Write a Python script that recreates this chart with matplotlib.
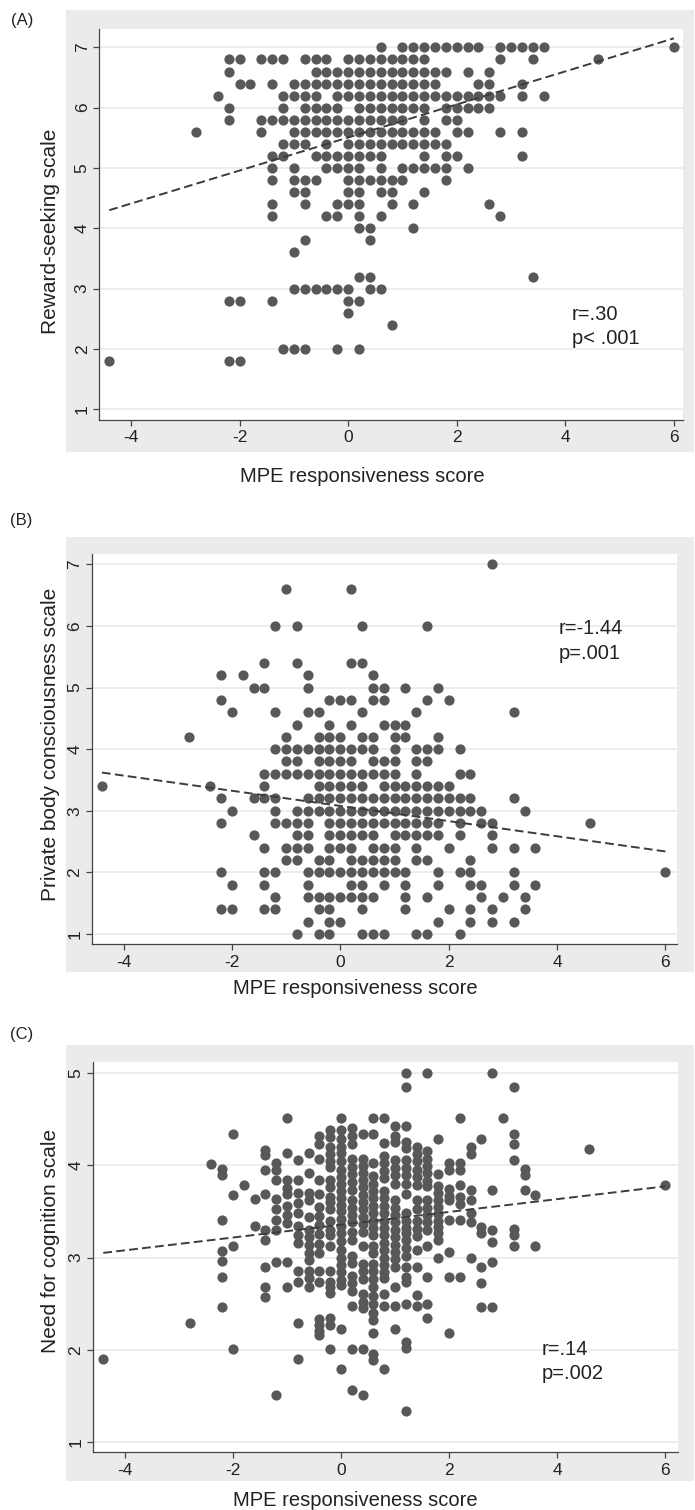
import matplotlib
matplotlib.use('Agg')
import matplotlib.pyplot as plt
from matplotlib.patches import Rectangle

plt.rcParams['font.family'] = ['Liberation Sans', 'DejaVu Sans']
plt.rcParams['axes.unicode_minus'] = False

# (A) reward-seeking scale value -> MPE responsiveness scores on that row
reward_rows = {
    7.0: [0.6, 1.0, 1.2, 1.4, 1.6, 1.8, 2.0, 2.2, 2.4, 2.8, 3.0, 3.2, 3.4, 3.6, 6.0],
    6.8: [-2.2, -2.0, -1.6, -1.4, -1.2, -0.8, -0.6, -0.4, 0.0, 0.2, 0.4, 0.6, 0.8, 1.0, 1.2, 1.4, 2.8, 3.4, 4.6],
    6.6: [-2.2, -0.6, -0.4, -0.2, 0.0, 0.2, 0.4, 0.6, 0.8, 1.0, 1.2, 1.4, 1.6, 1.8, 2.2, 2.6],
    6.4: [-2.0, -1.8, -1.4, -1.0, -0.8, -0.6, -0.4, -0.2, 0.0, 0.2, 0.4, 0.6, 0.8, 1.0, 1.2, 1.4, 1.6, 2.4, 2.6, 3.2],
    6.2: [-2.4, -1.2, -1.0, -0.8, -0.6, -0.2, 0.0, 0.2, 0.4, 0.6, 0.8, 1.0, 1.2, 1.4, 1.6, 1.8, 2.0, 2.2, 2.4, 2.6, 2.8, 3.2, 3.6],
    6.0: [-2.2, -1.2, -0.8, -0.6, -0.4, -0.2, 0.2, 0.4, 0.6, 0.8, 1.0, 1.2, 1.4, 1.8, 2.0, 2.2, 2.4, 2.6],
    5.8: [-2.2, -1.6, -1.4, -1.2, -1.0, -0.8, -0.6, -0.4, -0.2, 0.0, 0.2, 0.4, 0.6, 0.8, 1.0, 1.4, 1.8, 2.0],
    5.6: [-2.8, -1.6, -1.0, -0.8, -0.6, -0.4, -0.2, 0.0, 0.2, 0.4, 0.6, 0.8, 1.0, 1.2, 1.4, 1.6, 2.0, 2.2, 2.8, 3.2],
    5.4: [-1.2, -1.0, -0.8, -0.4, 0.0, 0.2, 0.4, 0.6, 0.8, 1.0, 1.2, 1.4, 1.6, 1.8],
    5.2: [-1.4, -1.2, -0.6, -0.4, -0.2, 0.0, 0.2, 0.4, 0.6, 1.4, 1.8, 2.0, 3.2],
    5.0: [-1.4, -1.0, -0.4, -0.2, 0.0, 0.2, 0.6, 1.0, 1.2, 1.4, 1.6, 1.8, 2.2],
    4.8: [-1.4, -1.0, -0.8, -0.6, 0.0, 0.2, 0.4, 0.6, 0.8, 1.0, 1.8],
    4.6: [-1.0, -0.8, 0.0, 0.2, 0.6, 0.8, 1.4],
    4.4: [-1.4, -0.8, -0.2, 0.0, 0.2, 0.8, 1.2, 2.6],
    4.2: [-1.4, -0.4, -0.2, 0.2, 0.6, 2.8],
    4.0: [0.2, 0.4, 1.2],
    3.8: [-0.8, 0.4],
    3.6: [-1.0],
    3.2: [0.2, 0.4, 3.4],
    3.0: [-1.0, -0.8, -0.6, -0.4, -0.2, 0.0, 0.4, 0.6],
    2.8: [-2.2, -2.0, -1.4, 0.0, 0.2],
    2.6: [0.0],
    2.4: [0.8],
    2.0: [-1.2, -1.0, -0.8, -0.2, 0.2],
    1.8: [-4.4, -2.2, -2.0],
}

# (B) private body consciousness scale value -> MPE scores on that row
pbc_rows = {
    7.0: [2.8],
    6.6: [-1.0, 0.2],
    6.0: [-1.2, -0.8, 0.4, 1.6],
    5.4: [-1.4, -0.8, 0.2, 0.4],
    5.2: [-2.2, -1.8, -0.6, 0.6],
    5.0: [-1.6, -1.4, -0.6, 0.6, 0.8, 1.2, 1.8],
    4.8: [-2.2, -0.2, 0.0, 0.2, 0.6, 0.8, 1.6, 2.0],
    4.6: [-2.0, -1.2, -0.6, -0.4, 0.4, 1.4, 3.2],
    4.4: [-0.8, -0.2, 0.2, 0.8, 1.0, 1.2],
    4.2: [-2.8, -1.0, -0.4, -0.2, 0.0, 0.4, 0.6, 1.0, 1.2, 1.8],
    4.0: [-1.2, -1.0, -0.8, -0.6, -0.4, -0.2, 0.0, 0.2, 0.4, 0.6, 1.0, 1.4, 1.6, 1.8, 2.2],
    3.8: [-1.0, -0.8, -0.4, -0.2, 0.0, 0.2, 0.6, 0.8, 1.0, 1.4, 1.6],
    3.6: [-1.4, -1.2, -1.0, -0.8, -0.6, -0.4, -0.2, 0.0, 0.2, 0.4, 0.6, 0.8, 1.0, 1.4, 2.2, 2.4],
    3.4: [-4.4, -2.4, -1.4, -0.4, -0.2, 0.0, 0.2, 0.4, 0.8, 1.0, 1.2, 1.4, 1.6, 1.8, 2.0],
    3.2: [-2.2, -1.6, -1.4, -1.2, -0.6, -0.4, -0.2, 0.0, 0.2, 0.4, 0.6, 0.8, 1.0, 1.2, 1.4, 1.6, 1.8, 2.0, 2.2, 2.4, 3.2],
    3.0: [-2.0, -1.2, -0.8, -0.6, -0.4, -0.2, 0.0, 0.2, 0.4, 0.6, 0.8, 1.0, 1.2, 1.4, 1.6, 1.8, 2.0, 2.2, 2.4, 2.6, 3.4],
    2.8: [-2.2, -1.2, -1.0, -0.8, -0.6, -0.2, 0.0, 0.2, 0.4, 0.6, 0.8, 1.0, 1.2, 1.4, 1.6, 1.8, 2.2, 2.6, 2.8, 4.6],
    2.6: [-1.6, -0.8, -0.6, -0.2, 0.0, 0.2, 0.4, 0.6, 1.0, 1.2, 1.4, 1.6, 1.8, 2.2, 2.8],
    2.4: [-1.4, -1.0, -0.8, -0.6, -0.2, 0.0, 0.2, 0.6, 0.8, 1.0, 1.4, 2.0, 2.8, 3.2, 3.6],
    2.2: [-1.0, -0.8, -0.4, -0.2, 0.2, 0.4, 0.6, 0.8, 1.0, 1.4, 1.6, 2.4],
    2.0: [-2.2, -1.4, -1.2, -0.6, -0.4, -0.2, 0.0, 0.2, 0.4, 0.6, 0.8, 1.0, 1.2, 1.8, 2.2, 2.4, 3.2, 6.0],
    1.8: [-2.0, -1.4, -0.6, 0.2, 0.4, 0.8, 1.2, 1.8, 2.4, 2.6, 3.2, 3.6],
    1.6: [-1.2, -0.6, -0.4, -0.2, 0.0, 0.2, 0.4, 0.6, 1.2, 1.6, 2.6, 3.0, 3.4],
    1.4: [-2.2, -2.0, -1.4, -1.2, -0.4, -0.2, 0.4, 1.2, 2.0, 2.4, 2.8, 3.4],
    1.2: [-0.6, -0.2, 0.0, 1.8, 2.4, 2.8, 3.2],
    1.0: [-0.8, -0.4, -0.2, 0.4, 0.6, 0.8, 1.4, 1.6, 2.2],
}

# (C) MPE responsiveness score -> need for cognition values in that column
nfc_cols = {
    -4.4: [1.90],
    -2.8: [2.29],
    -2.4: [4.01],
    -2.2: [3.96, 3.89, 3.41, 3.07, 2.96, 2.79, 2.46],
    -2.0: [4.34, 3.68, 3.12, 2.01],
    -1.8: [3.79],
    -1.6: [3.63, 3.34],
    -1.4: [4.16, 4.11, 3.95, 3.69, 3.30, 3.19, 2.90, 2.68, 2.57],
    -1.2: [4.02, 3.95, 3.84, 3.63, 3.52, 3.41, 3.30, 2.95, 1.51],
    -1.0: [4.51, 4.13, 3.84, 3.75, 3.69, 3.56, 3.46, 3.37, 2.95, 2.68],
    -0.8: [4.06, 3.84, 3.70, 3.59, 3.48, 3.34, 3.24, 3.16, 2.85, 2.73, 2.29, 1.90],
    -0.6: [4.13, 3.91, 3.70, 3.62, 3.44, 3.30, 3.22, 3.13, 3.05, 2.97, 2.85, 2.78, 2.68],
    -0.4: [4.31, 4.23, 4.07, 3.84, 3.69, 3.55, 3.45, 3.35, 3.25, 3.15, 3.05, 2.85, 2.74, 2.33, 2.27, 2.20, 2.16],
    -0.2: [4.38, 4.30, 4.20, 4.12, 4.04, 3.98, 3.84, 3.76, 3.66, 3.60, 3.52, 3.40, 3.30, 3.24, 3.12,
           2.85, 2.74, 2.68, 2.62, 2.34, 2.27, 2.01],
    0.0: [4.51, 4.38, 4.28, 4.20, 4.13, 4.04, 3.95, 3.87, 3.80, 3.72, 3.64, 3.57, 3.50, 3.42, 3.34,
          3.26, 3.18, 3.08, 3.00, 2.92, 2.84, 2.76, 2.70, 2.23, 1.79],
    0.2: [4.40, 4.31, 4.23, 4.07, 3.98, 3.90, 3.82, 3.73, 3.62, 3.54, 3.46, 3.38, 3.28, 3.19, 3.02,
          2.94, 2.80, 2.72, 2.64, 2.47, 2.01, 1.57],
    0.4: [4.34, 4.07, 3.99, 3.91, 3.84, 3.76, 3.68, 3.60, 3.52, 3.44, 3.36, 3.28, 3.12, 2.93, 2.85,
          2.77, 2.60, 2.52, 2.45, 2.01, 1.51],
    0.6: [4.51, 4.34, 4.02, 3.88, 3.80, 3.72, 3.64, 3.56, 3.48, 3.40, 3.32, 3.24, 3.12, 3.05, 2.93,
          2.85, 2.77, 2.68, 2.58, 2.50, 2.40, 2.32, 2.18, 1.96, 1.89],
    0.8: [4.51, 4.24, 4.10, 4.02, 3.94, 3.86, 3.72, 3.64, 3.56, 3.48, 3.40, 3.32, 3.24, 3.16, 3.08,
          3.00, 2.92, 2.84, 2.78, 2.61, 2.47, 1.79],
    1.0: [4.42, 4.32, 4.25, 4.05, 3.97, 3.89, 3.80, 3.62, 3.54, 3.46, 3.38, 3.30, 3.22, 3.14, 3.06,
          2.98, 2.90, 2.68, 2.47, 2.23],
    1.2: [5.00, 4.84, 4.42, 4.25, 4.18, 4.05, 3.97, 3.89, 3.80, 3.69, 3.48, 3.40, 3.32, 3.26, 3.19,
          3.10, 3.02, 2.90, 2.79, 2.74, 2.50, 2.09, 2.02, 1.34],
    1.4: [4.20, 4.12, 4.04, 3.95, 3.87, 3.79, 3.62, 3.53, 3.39, 3.31, 3.23, 3.08, 2.90, 2.59, 2.47],
    1.6: [5.00, 4.15, 4.07, 3.99, 3.91, 3.83, 3.77, 3.62, 3.54, 3.46, 3.38, 3.30, 3.12, 2.79, 2.50, 2.34],
    1.8: [4.28, 3.90, 3.77, 3.70, 3.62, 3.55, 3.47, 3.40, 3.33, 3.26, 3.19, 3.00],
    2.0: [4.02, 3.95, 3.74, 3.67, 3.62, 3.41, 3.06, 2.79, 2.18],
    2.2: [4.51, 4.02, 3.95, 3.78, 3.65, 3.58, 3.41, 2.79],
    2.4: [4.20, 4.12, 3.73, 3.62, 3.48, 3.38, 3.00],
    2.6: [4.28, 3.33, 3.26, 2.90, 2.72, 2.46],
    2.8: [5.00, 3.73, 3.30, 3.17, 2.95, 2.46],
    3.0: [4.51],
    3.2: [4.84, 4.34, 4.23, 4.05, 3.31, 3.24, 3.12],
    3.4: [3.96, 3.89, 3.73],
    3.6: [3.68, 3.12],
    4.6: [4.17],
    6.0: [3.78],
}

# fitted lines, read at the ends of the data range
fit_x = [-4.4, 6.0]
reward_fit = [4.30, 7.15]
pbc_fit = [3.62, 2.34]
nfc_fit = [3.05, 3.77]

x_ticks = [-4, -2, 0, 2, 4, 6]
seven_ticks = [1, 2, 3, 4, 5, 6, 7]
five_ticks = [1, 2, 3, 4, 5]

W, H = 695, 1510
DOT = '#585858'
AXIS = '#444444'


def frac(l, t, r, b):
    return [l / W, 1 - b / H, (r - l) / W, (b - t) / H]


def rows_to_xy(rows):
    xs, ys = [], []
    for y, row in rows.items():
        xs += row
        ys += [y] * len(row)
    return xs, ys


def cols_to_xy(cols):
    xs, ys = [], []
    for x, col in cols.items():
        ys += col
        xs += [x] * len(col)
    return xs, ys


def draw_panel(fig, tag, bg, box, xlim, ylim, yticks, xs, ys, fit_y,
               ylabel, ylab_pos, xlab_pos, stats, tag_pos):
    l, t, r, b = bg
    fig.add_artist(Rectangle((l / W, 1 - b / H), (r - l) / W, (b - t) / H,
                             transform=fig.transFigure, facecolor='#ebebeb',
                             edgecolor='none', zorder=-10))
    ax = fig.add_axes(frac(*box))
    ax.set_zorder(1)
    ax.set_facecolor('white')
    ax.set_xlim(*xlim)
    ax.set_ylim(*ylim)
    ax.set_xticks(x_ticks)
    ax.set_yticks(yticks)
    for s in ['top', 'right']:
        ax.spines[s].set_visible(False)
    for s in ['left', 'bottom']:
        ax.spines[s].set_color(AXIS)
        ax.spines[s].set_linewidth(0.9)
    ax.tick_params(axis='both', colors=AXIS, labelcolor='#222222', length=4,
                   width=0.9, labelsize=12.5)
    ax.tick_params(axis='y', labelrotation=90, pad=3)
    ax.tick_params(axis='x', pad=3.5)
    for lab in ax.get_yticklabels():
        lab.set_va('center')
    ax.yaxis.grid(True, color='#ececec', linewidth=1.3)
    ax.set_axisbelow(True)

    ax.scatter(xs, ys, s=54, color=DOT, linewidths=0, zorder=3)
    ax.plot(fit_x, fit_y, color='#3c3c3c', linewidth=1.4, dashes=(4.5, 2.2), zorder=4)

    for (tx, ty, txt) in stats:
        ax.text(tx, ty, txt, fontsize=14.5, va='center', ha='left', color='#222222')

    fig.text(tag_pos[0] / W, 1 - tag_pos[1] / H, tag, fontsize=12,
             ha='left', va='center', color='#222222')
    fig.text(ylab_pos[0] / W, 1 - ylab_pos[1] / H, ylabel, rotation=90,
             fontsize=15, ha='center', va='center', color='#222222')
    fig.text(xlab_pos[0] / W, 1 - xlab_pos[1] / H, 'MPE responsiveness score',
             fontsize=14.5, ha='center', va='center', color='#222222')
    return ax


fig = plt.figure(figsize=(W / 100, H / 100), dpi=100)

xa, ya = rows_to_xy(reward_rows)
draw_panel(fig, '(A)', (66, 10, 694, 452), (99.5, 29.3, 682.6, 420),
           (-4.58, 6.16), (0.82, 7.30), seven_ticks, xa, ya, reward_fit,
           'Reward-seeking scale', (51, 231), (362, 476),
           [(4.12, 2.57, 'r=.30'), (4.12, 2.17, 'p< .001')], (11, 21))

xb, yb = rows_to_xy(pbc_rows)
draw_panel(fig, '(B)', (66, 537, 694, 972), (92.2, 554, 677.3, 944.3),
           (-4.58, 6.22), (0.833, 7.167), seven_ticks, xb, yb, pbc_fit,
           'Private body consciousness scale', (51, 744), (355, 988),
           [(4.03, 5.96, 'r=-1.44'), (4.03, 5.56, 'p=.001')], (10, 521))

xc, yc = cols_to_xy(nfc_cols)
draw_panel(fig, '(C)', (66, 1045, 694, 1481), (93, 1061.7, 678, 1452.3),
           (-4.59, 6.24), (0.892, 5.119), five_ticks, xc, yc, nfc_fit,
           'Need for cognition scale', (51, 1241), (355, 1500),
           [(3.72, 2.00, 'r=.14'), (3.72, 1.75, 'p=.002')], (10, 1035))

fig.savefig('out.png', dpi=100, facecolor='white')
